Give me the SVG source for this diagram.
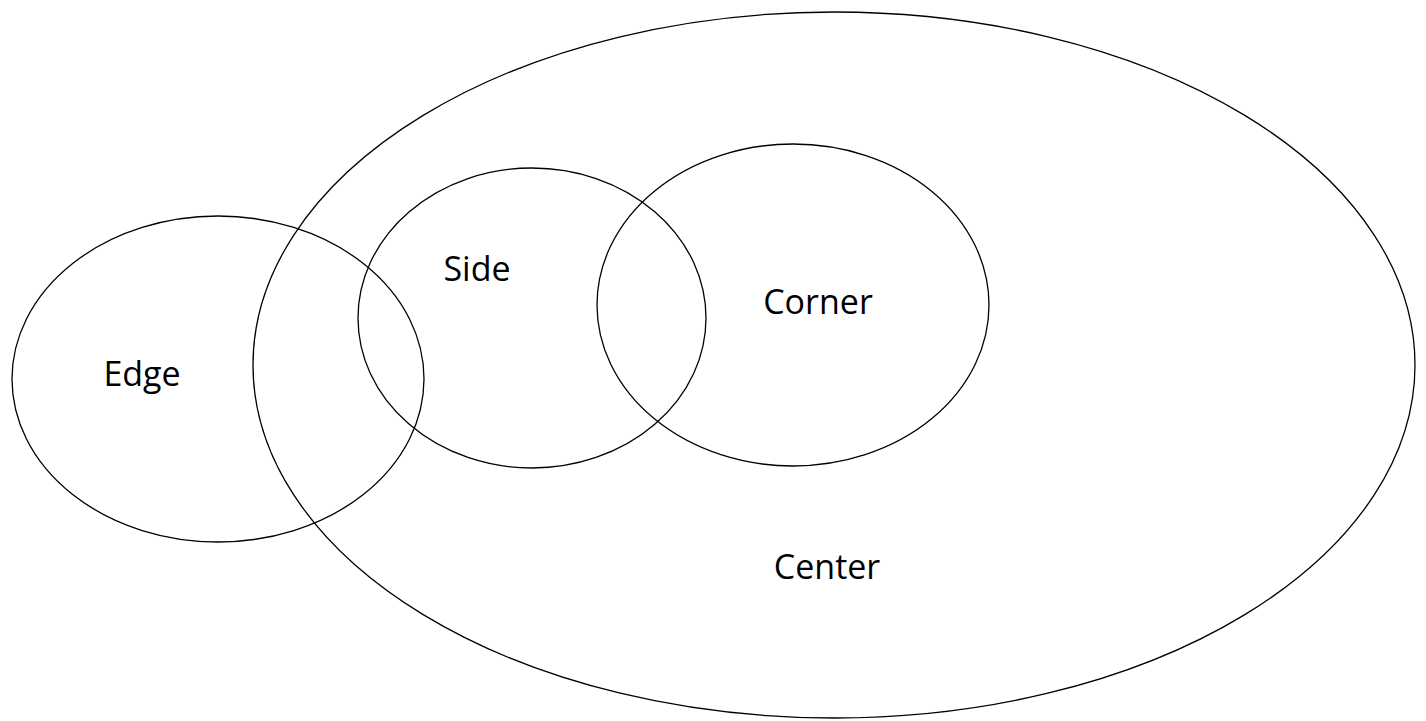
<svg xmlns="http://www.w3.org/2000/svg" width="1426" height="721" viewBox="0 0 1426 721">
<style>
.s{fill:none;stroke:#000;stroke-width:1.3}
.t{font-family:"Open Sans","Liberation Sans",sans-serif;font-size:34px;fill:#000;text-anchor:middle;dominant-baseline:central}
</style>
<rect width="1426" height="721" fill="#fff"/>
<g id="center"><ellipse class="s" cx="834" cy="365" rx="581" ry="353"/><text class="t" x="827" y="566">Center</text></g>
<g id="edge"><ellipse class="s" cx="218" cy="379" rx="206" ry="163"/><text class="t" x="142" y="373">Edge</text></g>
<g id="side"><ellipse class="s" cx="532" cy="318" rx="174" ry="150"/><text class="t" x="477" y="268">Side</text></g>
<g id="corner"><ellipse class="s" cx="793" cy="305" rx="196" ry="161"/><text class="t" x="818" y="301">Corner</text></g>
<g id="connectors"/>
</svg>
